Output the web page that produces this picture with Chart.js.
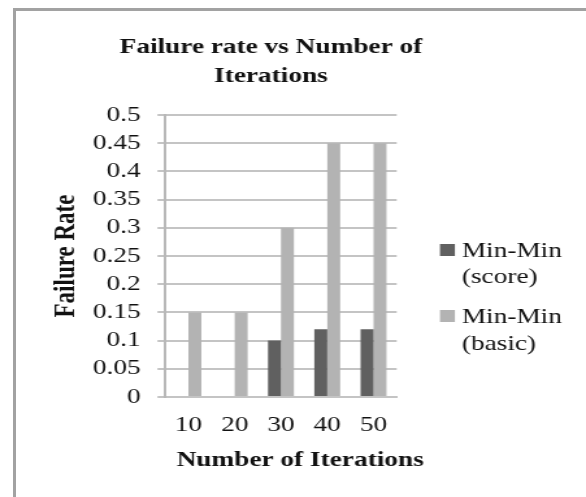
<!DOCTYPE html>
<html>
<head>
<meta charset="utf-8">
<script src="https://cdn.jsdelivr.net/npm/chart.js@4/dist/chart.umd.min.js"></script>
<style>
  html, body { margin: 0; padding: 0; background: #fff; overflow: hidden; width: 586px; height: 497px; }
  #frame { position: absolute; left: 13px; top: 8px; width: 700px; height: 700px; border: 3px solid #a2a2a2; box-sizing: border-box; }
  #wrap { position: absolute; left: 0; top: 0; width: 451px; height: 497px; transform: scaleX(1.2993); transform-origin: 0 0; }
</style>
</head>
<body>
<div id="frame"></div>
<div id="wrap"><canvas id="c" width="451" height="497"></canvas></div>
<script>
const chartTitle = ['Failure rate vs Number of', 'Iterations'];
const xAxisTitle = 'Number of Iterations';
const yAxisTitle = 'Failure Rate';
const categories = ['10', '20', '30', '40', '50'];
const seriesNames = ['Min-Min (score)', 'Min-Min (basic)'];
const scoreValues = [0, 0, 0.10, 0.12, 0.12];
const basicValues = [0.15, 0.15, 0.30, 0.45, 0.45];
const yTickLabels = ['0', '0.05', '0.1', '0.15', '0.2', '0.25', '0.3', '0.35', '0.4', '0.45', '0.5'];
const seriesColors = ['#606060', '#b3b3b3'];

const SERIF = '"Liberation Serif", "Times New Roman", serif';

const textPlugin = {
  id: 'textPlugin',
  afterDraw(chart) {
    const ctx = chart.ctx;
    const area = chart.chartArea;
    ctx.save();
    ctx.fillStyle = '#111';
    ctx.textAlign = 'center';
    ctx.textBaseline = 'alphabetic';
    ctx.font = 'bold 21px ' + SERIF;
    ctx.fillText(chartTitle[0], 208.5, 53);
    ctx.fillText(chartTitle[1], 208.5, 82);
    ctx.fillText(xAxisTitle, 231, 465.5);
    // y axis title (rotated)
    ctx.save();
    ctx.translate(51.5, (area.top + area.bottom) / 2);
    ctx.rotate(-Math.PI / 2);
    ctx.font = 'bold 23px ' + SERIF;
    ctx.textBaseline = 'middle';
    ctx.fillText(yAxisTitle, 0, 0);
    ctx.restore();
    // legend
    const boxX = 338.6, boxW = 11.5, boxH = 12;
    const entries = [
      { boxY: 244, lines: [256.7, 283] },
      { boxY: 310, lines: [322.7, 349.5] }
    ];
    ctx.textAlign = 'left';
    ctx.font = '21px ' + SERIF;
    chart.data.datasets.forEach((ds, i) => {
      const e = entries[i];
      ctx.fillStyle = ds.backgroundColor;
      ctx.fillRect(boxX, e.boxY, boxW, boxH);
      ctx.fillStyle = '#111';
      const parts = ds.label.split(' ');
      parts.forEach((p, j) => ctx.fillText(p, 355.4, e.lines[j]));
    });
    ctx.restore();
  }
};

new Chart(document.getElementById('c'), {
  type: 'bar',
  data: {
    labels: categories,
    datasets: [
      { label: seriesNames[0], data: scoreValues, backgroundColor: seriesColors[0] },
      { label: seriesNames[1], data: basicValues, backgroundColor: seriesColors[1] }
    ]
  },
  options: {
    responsive: false,
    animation: false,
    devicePixelRatio: 1,
    categoryPercentage: 0.56,
    barPercentage: 1.0,
    layout: { padding: { left: 58.45, right: 145.7, top: 115, bottom: 44 } },
    plugins: {
      legend: { display: false },
      title: { display: false },
      tooltip: { enabled: false }
    },
    scales: {
      x: {
        grid: { display: false, drawTicks: false },
        border: { display: true, color: '#c4c4c4', width: 2 },
        ticks: {
          font: { family: SERIF, size: 21 },
          color: '#111',
          padding: 15.4,
          maxRotation: 0
        }
      },
      y: {
        min: 0,
        max: 0.5,
        ticks: {
          stepSize: 0.05,
          autoSkip: false,
          font: { family: SERIF, size: 21 },
          color: '#111',
          padding: 13,
          callback: (v, i) => yTickLabels[i]
        },
        grid: { color: '#c4c4c4', lineWidth: 2, tickLength: 6, drawTicks: true },
        border: { display: true, color: '#b8b8b8', width: 2 },
        title: { display: false }
      }
    }
  },
  plugins: [textPlugin]
});
</script>
</body>
</html>
